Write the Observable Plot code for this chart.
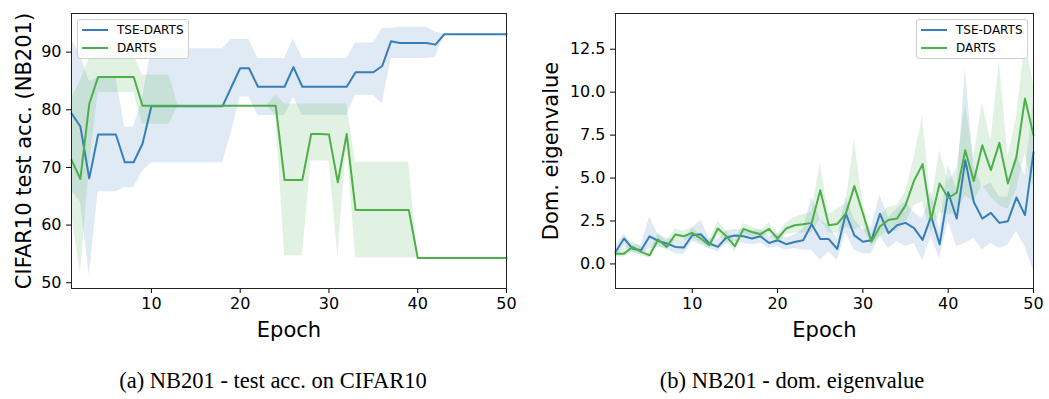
<!DOCTYPE html>
<html>
<head>
<meta charset="utf-8">
<script src="https://cdn.jsdelivr.net/npm/d3@7"></script>
<script src="https://cdn.jsdelivr.net/npm/@observablehq/plot@0.6"></script>
<style>
  html, body { margin: 0; padding: 0; background: #fff; }
  #wrap { position: relative; width: 1049px; height: 399px; overflow: hidden; font-family: "DejaVu Sans", sans-serif; }
  .panel { position: absolute; top: 0; }
  .panel svg { overflow: visible; }
  .panel g[aria-label$="axis label"] text { font-size: 21px; }
  .legend { position: absolute; box-sizing: border-box; border: 1px solid #cfcfcf; border-radius: 3px; background: rgba(255,255,255,0.8); font-size: 12px; color: #000; }
  .legend .row { position: absolute; left: 0; height: 14px; line-height: 14px; }
  .legend .sw { position: absolute; left: 4px; top: 6px; width: 26px; height: 2px; }
  .legend .lab { position: absolute; left: 39px; top: 0; white-space: nowrap; }
  .caption { position: absolute; top: 368px; font-family: "Liberation Serif", "Times New Roman", serif; font-size: 22.5px; color: #000; white-space: nowrap; transform: translateX(-50%); }
</style>
</head>
<body>
<div id="wrap">
  <div id="left" class="panel" style="left:0px"></div>
  <div id="right" class="panel" style="left:520px"></div>
  <div class="caption" style="left:273px">(a) NB201 - test acc. on CIFAR10</div>
  <div class="caption" style="left:792px">(b) NB201 - dom. eigenvalue</div>
</div>
<script>
// ---------- data ----------
const epochs = d3.range(1, 51);
const seriesNames = ["TSE-DARTS", "DARTS"];
const seriesColors = ["#377eb8", "#4daf4a"];

// (a) CIFAR10 test accuracy
const accTse = [79.4,77.1,68.1,75.7,75.7,75.7,70.9,70.9,74.1,80.6,
  80.6,80.6,80.6,80.6,80.6,80.6,80.6,80.6,83.9,87.2,
  87.2,84.0,84.0,84.0,84.0,87.4,84.0,84.0,84.0,84.0,
  84.0,84.0,86.5,86.5,86.5,87.6,91.9,91.6,91.6,91.6,
  91.6,91.3,93.1,93.1,93.1,93.1,93.1,93.1,93.1,93.1];
const accTseLo = [66,64,51.3,65.8,65.8,65.8,66.5,66.5,69.3,70.8,
  70.8,70.8,70.8,70.8,70.8,70.8,70.8,70.8,76,82.2,
  82.2,79,79,79,79,82.2,79,79,79,79,
  79,79,82.5,82.5,82.5,81,88.9,88.9,88.9,88.9,
  88.9,89.1,93.1,93.1,93.1,93.1,93.1,93.1,93.1,93.1];
const accTseHi = [92.2,89.5,85,85.5,85.5,85.5,77,77,82,90.6,
  90.6,90.6,90.6,90.6,90.6,90.6,90.6,90.6,92.2,92.2,
  92.2,88.9,88.9,88.9,88.9,92.3,88.9,88.9,88.9,88.9,
  88.9,88.9,91.6,91.6,91.6,94.1,94.1,94.3,94.3,94.3,
  94.3,93.5,93.1,93.1,93.1,93.1,93.1,93.1,93.1,93.1];
const accDarts = [71.3,68.0,81.0,85.7,85.7,85.7,85.7,85.7,80.7,80.7,
  80.7,80.7,80.7,80.7,80.7,80.7,80.7,80.7,80.7,80.7,
  80.7,80.7,80.7,80.7,67.8,67.8,67.8,75.8,75.8,75.7,
  67.4,75.8,62.6,62.6,62.6,62.6,62.6,62.6,62.6,54.3,
  54.3,54.3,54.3,54.3,54.3,54.3,54.3,54.3,54.3,54.3];
const accDartsLo = [62,51.6,70,83,83,83,83,83,77.5,77.5,
  77.5,77.5,80.7,80.7,80.7,80.7,80.7,80.7,80.7,80.7,
  80.7,80.7,80.7,79,54.7,54.7,54.7,71.1,71.1,71.1,
  54.4,74,54.3,54.3,54.3,54.3,54.3,54.3,54.3,54.3,
  54.3,54.3,54.3,54.3,54.3,54.3,54.3,54.3,54.3,54.3];
const accDartsHi = [82,85,89,89.5,89.5,89.5,89.5,89.5,86,86,
  86,86,80.7,80.7,80.7,80.7,80.7,80.7,80.7,80.7,
  80.7,80.7,80.7,82.5,81,81,81,81,81,81,
  81,81,70.9,70.9,70.9,70.9,70.9,70.9,70.9,54.3,
  54.3,54.3,54.3,54.3,54.3,54.3,54.3,54.3,54.3,54.3];
const accTicks = [50,60,70,80,90];

// (b) dominant eigenvalue
const eigTse = [0.70,1.48,0.89,0.80,1.61,1.34,1.19,0.99,0.95,1.67,
  1.73,1.19,0.99,1.54,1.65,1.61,1.48,1.61,1.22,1.38,
  1.15,1.28,1.38,2.31,1.45,1.45,0.87,2.93,1.66,1.29,
  1.38,2.92,1.79,2.25,2.39,2.08,1.40,2.78,1.14,4.17,
  2.64,6.04,3.61,2.64,2.97,2.39,2.49,3.87,2.84,6.50];
const eigTseLo = [0.35,1.05,0.65,0.55,0.9,0.95,0.9,0.6,0.55,1.3,
  1.1,0.9,0.7,1.2,1.3,1.2,1.1,1.2,0.9,1.0,
  0.8,0.9,0.8,0.8,0.2,0.7,0.2,1.8,0.8,0.6,
  0.6,1.6,0.9,1.3,1.0,1.2,0.2,1.6,0.3,2.5,
  1.0,1.2,1.5,0.8,1.2,0.9,1.1,1.9,1.0,-0.4];
const eigTseHi = [1.05,1.75,1.1,1.1,2.75,1.7,1.5,1.4,1.35,2.1,
  2.55,1.5,1.4,1.95,2.0,2.0,1.9,2.0,1.6,1.75,
  1.5,1.7,2.0,3.9,2.6,2.2,1.5,3.9,2.6,2.0,
  2.2,4.0,2.7,3.2,3.6,3.0,2.6,4.2,2.0,5.8,
  4.3,11.4,5.7,4.5,4.7,3.9,3.9,6.4,5.1,9.5];
const eigDarts = [0.60,0.60,0.99,0.70,0.50,1.42,0.99,1.71,1.61,1.81,
  1.48,1.09,2.06,1.61,1.03,2.04,1.86,1.73,2.04,1.48,
  2.06,2.25,2.31,2.39,4.29,2.25,2.33,2.93,4.53,2.95,
  1.29,2.18,2.56,2.64,3.41,4.85,5.81,2.59,4.68,3.84,
  4.15,6.62,4.83,6.91,5.46,7.05,4.68,6.23,9.63,7.50];
const eigDartsLo = [0.4,0.4,0.7,0.5,0.35,1.1,0.75,1.4,1.35,1.5,
  1.25,0.85,1.7,1.3,0.7,1.75,1.6,1.5,1.75,1.2,
  1.7,1.8,1.8,1.8,2.6,1.8,1.8,2.1,2.0,2.2,
  1.0,1.6,1.9,1.9,2.4,3.4,3.6,1.8,3.0,2.9,
  2.9,4.0,3.6,4.6,3.9,3.4,3.2,4.3,6.4,4.5];
const eigDartsHi = [0.8,0.85,1.3,1.0,0.7,1.8,1.3,2.05,1.9,2.1,
  1.7,1.35,2.5,1.9,1.35,2.35,2.15,1.95,2.4,1.75,
  2.4,2.7,2.9,3.0,5.9,2.9,3.2,3.5,7.2,3.6,
  1.7,2.8,3.3,3.4,4.2,6.2,8.6,3.5,6.6,4.8,
  5.5,9.3,6.2,9.4,7.2,11.8,6.3,8.5,12.9,10.5];
const eigTicks = [0,2.5,5,7.5,10,12.5];
const epochTicks = [10,20,30,40,50];

// ---------- helpers ----------
function table(means, los, his) {
  const rows = [];
  means.forEach((m, si) => {
    epochs.forEach((e, i) => rows.push({series: seriesNames[si], epoch: e, v: m[i], lo: los[si][i], hi: his[si][i]}));
  });
  return rows;
}

function panel({rows, width, marginLeft, marginRight, yDomain, yTicks, yFormat, yLabel, yLabelOffset}) {
  const bands = seriesNames.map((s, i) =>
    Plot.areaY(rows.filter(d => d.series === s), {x: "epoch", y1: "lo", y2: "hi", fill: seriesColors[i], fillOpacity: 0.16}));
  const lines = seriesNames.map((s, i) =>
    Plot.lineY(rows.filter(d => d.series === s), {x: "epoch", y: "v", stroke: seriesColors[i], strokeWidth: 2}));
  return Plot.plot({
    width, height: 345,
    marginLeft, marginRight, marginTop: 13, marginBottom: 57,
    style: {fontFamily: "DejaVu Sans, sans-serif", fontSize: "16px", color: "#000", background: "transparent"},
    x: {domain: [1, 50], ticks: epochTicks, tickFormat: d3.format("d"), label: "Epoch", labelAnchor: "center", labelOffset: 48, labelArrow: "none", tickSize: 5, tickPadding: 4},
    y: {domain: yDomain, ticks: yTicks, tickFormat: yFormat, label: yLabel, labelAnchor: "center", labelOffset: yLabelOffset, labelArrow: "none", tickSize: 5, tickPadding: 5},
    marks: [
      ...bands,
      ...lines,
      Plot.frame({stroke: "#222", strokeWidth: 1})
    ]
  });
}

const accRows = table([accTse, accDarts], [accTseLo, accDartsLo], [accTseHi, accDartsHi]);
const eigRows = table([eigTse, eigDarts], [eigTseLo, eigDartsLo], [eigTseHi, eigDartsHi]);

document.getElementById("left").append(panel({
  rows: accRows, width: 520, marginLeft: 71, marginRight: 14,
  yDomain: [49, 96.7], yTicks: accTicks, yFormat: d3.format("d"),
  yLabel: "CIFAR10 test acc. (NB201)", yLabelOffset: 55
}));
document.getElementById("right").append(panel({
  rows: eigRows, width: 529, marginLeft: 95, marginRight: 16,
  yDomain: [-1.43, 14.58], yTicks: eigTicks, yFormat: d3.format(".1f"),
  yLabel: "Dom. eigenvalue", yLabelOffset: 72
}));

// ---------- legends ----------
function legend(left, top) {
  const box = document.createElement("div");
  box.className = "legend";
  Object.assign(box.style, {left: left + "px", top: top + "px", width: "112px", height: "40px"});
  seriesNames.forEach((name, i) => {
    const row = document.createElement("div");
    row.className = "row";
    row.style.top = (3 + i * 18) + "px";
    row.style.width = "100%";
    const sw = document.createElement("div");
    sw.className = "sw";
    sw.style.background = seriesColors[i];
    const lab = document.createElement("div");
    lab.className = "lab";
    lab.textContent = name;
    row.append(sw, lab);
    box.append(row);
  });
  document.getElementById("wrap").append(box);
}
legend(77, 19);
legend(916, 19);
</script>
</body>
</html>
